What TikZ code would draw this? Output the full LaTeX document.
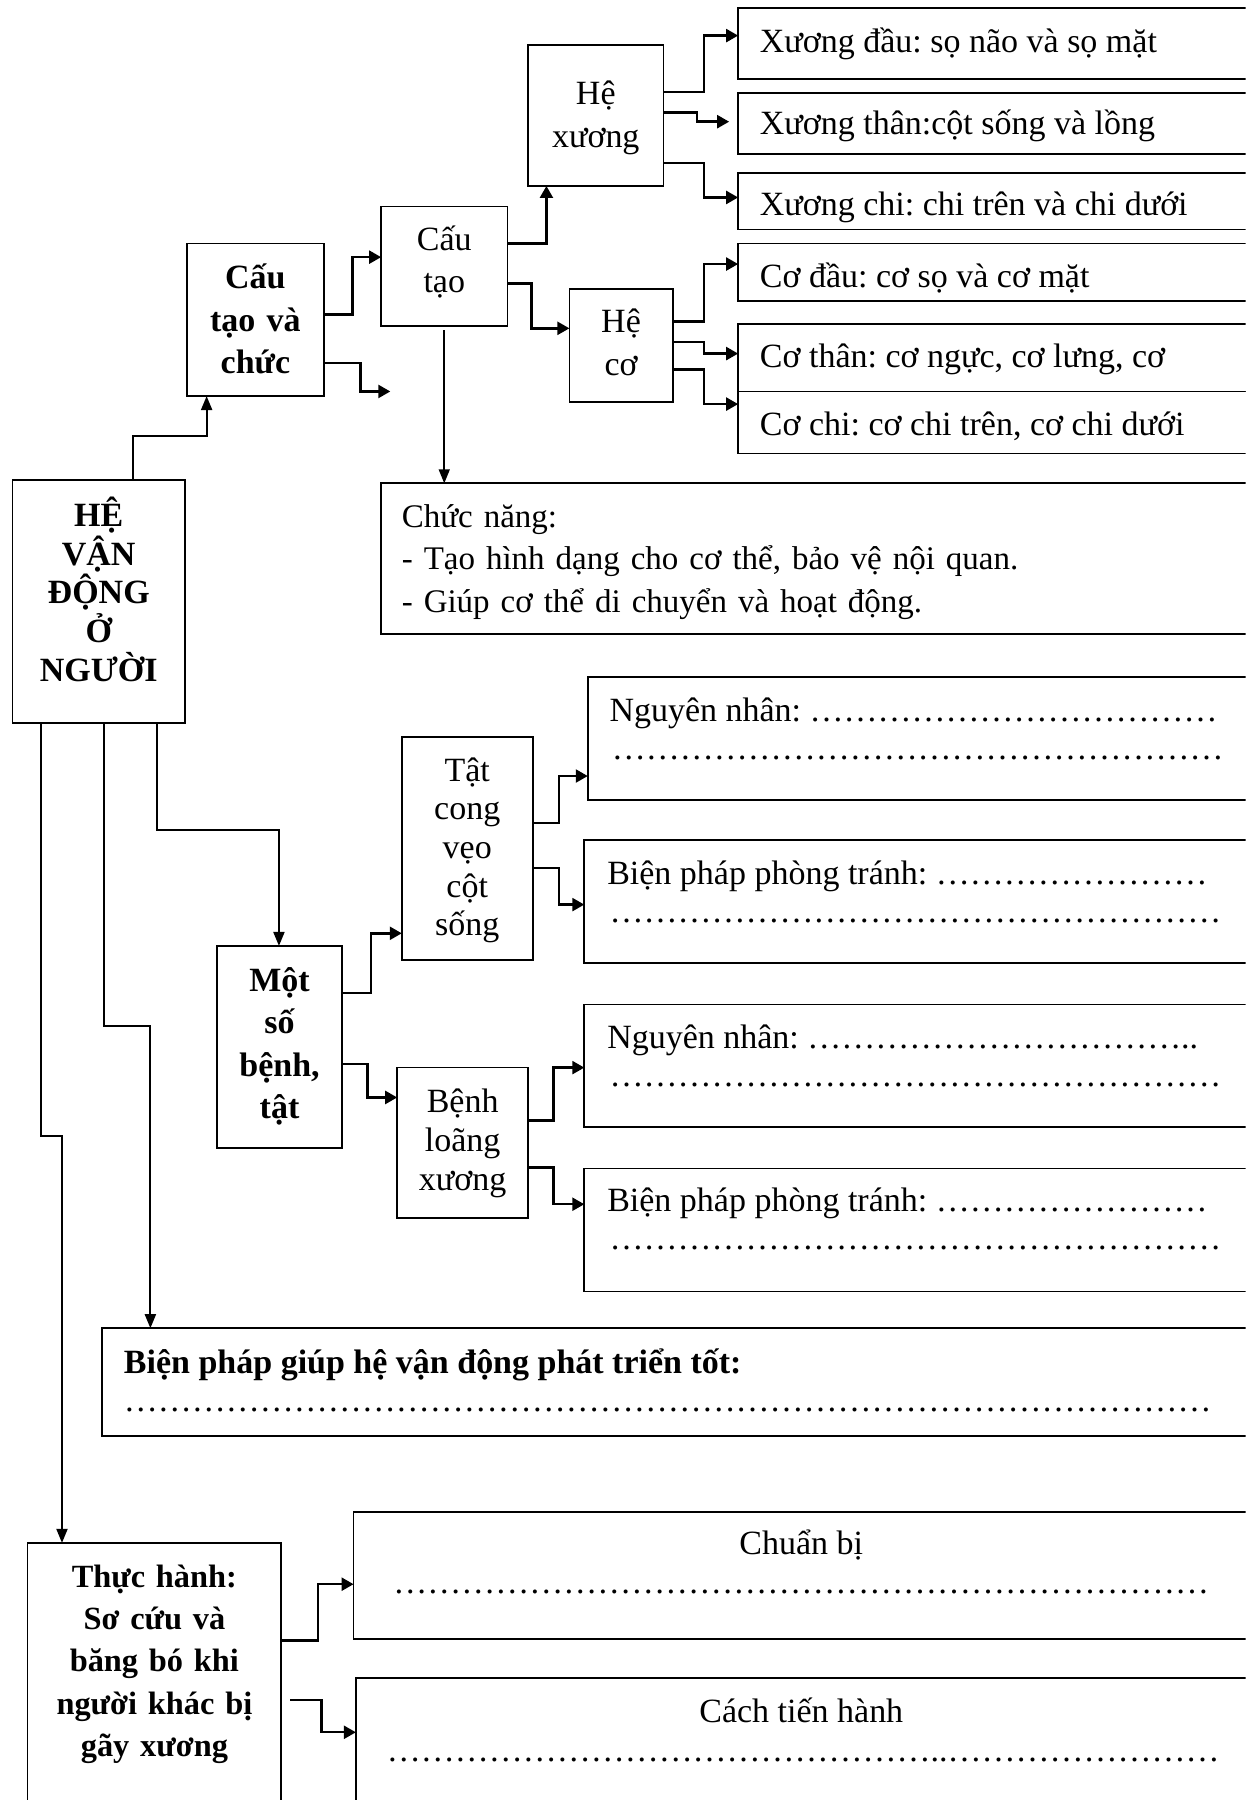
\documentclass[tikz,border=0pt]{standalone}
\usepackage{fontspec}
\setmainfont{Liberation Serif}
\frenchspacing
\usetikzlibrary{arrows.meta}
\newcommand\dts[1]{\foreach\k in {1,...,#1}{…}}
\newcommand\mkbox[5]{\node[bx,minimum width={(#4-#2)*0.5742pt},minimum height={(#5-#3)*0.5742pt}] (#1) at (#2,#3) {};}
\begin{document}
\begin{tikzpicture}[x=0.5742pt,y=-0.5742pt,
  bx/.style={draw,line width=0.85pt,inner sep=0pt,outer sep=0pt,anchor=north west},
  tx/.style={inner sep=0pt,outer sep=0pt,yshift=-1.4pt,font=\frenchspacing\fontsize{17}{#1}\selectfont},
  tx/.default=19.5,
  thk/.style={line width=1.2pt,-{Triangle[length=6pt,width=6.5pt]}},
  thn/.style={line width=1pt,-{Triangle[length=7pt,width=5.5pt]}}]
\useasboundingbox (0,0) rectangle (1085,1568);
\clip (0,0) rectangle (1085,1568);
% boxes
\mkbox{A}{11}{418}{161}{630}
\mkbox{B}{163}{212}{282}{345}
\mkbox{C}{332}{180}{442}{284}
\mkbox{D}{460}{39}{578}{162}
\mkbox{E}{496}{252}{586}{350}
\mkbox{X1}{643}{7}{1100}{69}
\mkbox{X2}{643}{81}{1100}{134}
\mkbox{X3}{643}{151}{1100}{200}
\mkbox{K1}{643}{212}{1100}{262}
\mkbox{K2}{643}{282}{1100}{341}
\mkbox{K3}{643}{341}{1100}{395}
\mkbox{F}{332}{421}{1100}{552}
\mkbox{T}{350}{642}{464}{836}
\mkbox{N1}{512}{590}{1100}{697}
\mkbox{P1}{509}{732}{1100}{839}
\mkbox{M}{189}{824}{298}{1000}
\mkbox{L}{346}{930}{460}{1061}
\mkbox{N2}{509}{875}{1100}{982}
\mkbox{P2}{509}{1018}{1100}{1125}
\mkbox{G}{89}{1157}{1100}{1251}
\mkbox{H}{24}{1344}{245}{1590}
\mkbox{Q1}{308}{1317}{1100}{1428}
\mkbox{Q2}{310}{1462}{1100}{1590}
% texts
\node[tx=19.38,text width=84pt,align=center,anchor=base] (tA) at (86,456) {\bfseries HỆ\\VẬN\\ĐỘNG\\Ở\\NGƯỜI};
\node[tx=21.25,text width=66pt,align=center,anchor=base] (tB) at (222.5,249) {\bfseries Cấu\\tạo và\\chức};
\node[tx=20.8,text width=60pt,align=center,anchor=base] (tC) at (387,216) {Cấu\\tạo};
\node[tx=21.25,text width=65pt,align=center,anchor=base] (tD) at (519,89) {Hệ\\xương};
\node[tx=21.6,text width=50pt,align=center,anchor=base] (tE) at (541,287) {Hệ\\cơ};
\node[tx,anchor=base west] (tX1) at (662,43) {Xương đầu: sọ não và sọ mặt};
\node[tx,anchor=base west] (tX2) at (662,115) {Xương thân:cột sống và lồng};
\node[tx,anchor=base west] (tX3) at (662,185) {Xương chi: chi trên và chi dưới};
\node[tx,anchor=base west] (tK1) at (662,248) {Cơ đầu: cơ sọ và cơ mặt};
\node[tx,anchor=base west] (tK2) at (662,318) {Cơ thân: cơ ngực, cơ lưng, cơ};
\node[tx,anchor=base west] (tK3) at (662,377) {Cơ chi: cơ chi trên, cơ chi dưới};
\node[tx,font=\frenchspacing\fontsize{16.5}{21.25}\selectfont,text width=420pt,align=left,anchor=base west] (tF) at (350,457) {Chức năng:\\- Tạo hình dạng cho cơ thể, bảo vệ nội quan.\\- Giúp cơ thể di chuyển và hoạt động.};
\node[tx=19.35,text width=62pt,align=center,anchor=base] (tT) at (407,678) {Tật\\cong\\vẹo\\cột\\sống};
\node[tx,anchor=base west] (tN1a) at (531,626) {Nguyên nhân: \dts{12}};
\node[tx,anchor=base west] (tN1b) at (533,659) {\dts{18}};
\node[tx,anchor=base west] (tP1a) at (529,768) {Biện pháp phòng tránh: \dts{8}};
\node[tx,anchor=base west] (tP1b) at (531,801) {\dts{18}};
\node[tx=21.25,text width=60pt,align=center,anchor=base] (tM) at (243.5,861) {\bfseries Một\\số\\bệnh,\\tật};
\node[tx=19.4,text width=62pt,align=center,anchor=base] (tL) at (403,967) {Bệnh\\loãng\\xương};
\node[tx,anchor=base west] (tN2a) at (529,911) {Nguyên nhân: \dts{11}..};
\node[tx,anchor=base west] (tN2b) at (531,944) {\dts{18}};
\node[tx,anchor=base west] (tP2a) at (529,1053) {Biện pháp phòng tránh: \dts{8}};
\node[tx,anchor=base west] (tP2b) at (531,1086) {\dts{18}};
\node[tx,anchor=base west] (tGa) at (108,1194) {\bfseries Biện pháp giúp hệ vận động phát triển tốt:};
\node[tx,anchor=base west] (tGb) at (108,1227) {\dts{32}};
\node[tx,font=\frenchspacing\fontsize{16.2}{21.25}\selectfont,text width=124pt,align=center,anchor=base] (tH) at (134.5,1380) {\bfseries Thực hành:\\Sơ cứu và\\băng bó khi\\người khác bị\\gãy xương};
\node[tx,anchor=base] (tQ1a) at (698,1352) {Chuẩn bị};
\node[tx,anchor=base] (tQ1b) at (698,1386) {\dts{24}};
\node[tx,anchor=base] (tQ2a) at (698,1498) {Cách tiến hành};
\node[tx,anchor=base west] (tQ2b) at (337,1532) {\dts{16}..\dts{8}};
% connectors
\draw[thn] (A.north -| 116,0) |- (180,380) -- (B.south -| 180,0);
\draw[thk] (B.east |- 0,274) -| (307,224) -- (C.west |- 0,224);
\coordinate (s1) at (340,341);
\draw[thk] (B.east |- 0,316) -| (314,341) -- (s1);
\draw[thk] (C.east |- 0,212) -| (D.south -| 476,0);
\draw[thk] (C.east |- 0,247) -| (463,286) -- (E.west |- 0,286);
\draw[thn,line width=0.8pt,shorten <=2pt] (C.south -| 387,0) -- (F.north -| 387,0);
\draw[thk] (D.east |- 0,80) -| (613,31) -- (X1.west |- 0,31);
\draw[thk,shorten >=4.5pt] (D.east |- 0,98) -| (607,106) -- (X2.west |- 0,106);
\draw[thk] (D.east |- 0,142) -| (613,172) -- (X3.west |- 0,172);
\draw[thk] (E.east |- 0,280) -| (613,230) -- (K1.west |- 0,230);
\draw[thk] (E.east |- 0,298) -| (613,308) -- (K2.west |- 0,308);
\draw[thk] (E.east |- 0,322) -| (613,352) -- (K3.west |- 0,352);
\draw[thn] (A.south -| 137,0) |- (243,723) -- (M.north -| 243,0);
\draw[thn] (A.south -| 91,0) |- (131,894) -- (G.north -| 131,0);
\draw[thn] (A.south -| 36,0) |- (54,990) -- (H.north -| 54,0);
\draw[thk] (M.east |- 0,865) -| (323,813) -- (T.west |- 0,813);
\draw[thk] (M.east |- 0,927) -| (320,956) -- (L.west |- 0,956);
\draw[thk] (T.east |- 0,717) -| (487,676) -- (N1.west |- 0,676);
\draw[thk] (T.east |- 0,756) -| (487,788) -- (P1.west |- 0,788);
\draw[thk] (L.east |- 0,976) -| (482,930) -- (N2.west |- 0,930);
\draw[thk] (L.east |- 0,1017) -| (482,1049) -- (P2.west |- 0,1049);
\draw[thk] (H.east |- 0,1429) -| (277,1380) -- (Q1.west |- 0,1380);
\draw[thk,shorten <=4.5pt] (H.east |- 0,1481) -| (280,1509) -- (Q2.west |- 0,1509);
\end{tikzpicture}
\end{document}
